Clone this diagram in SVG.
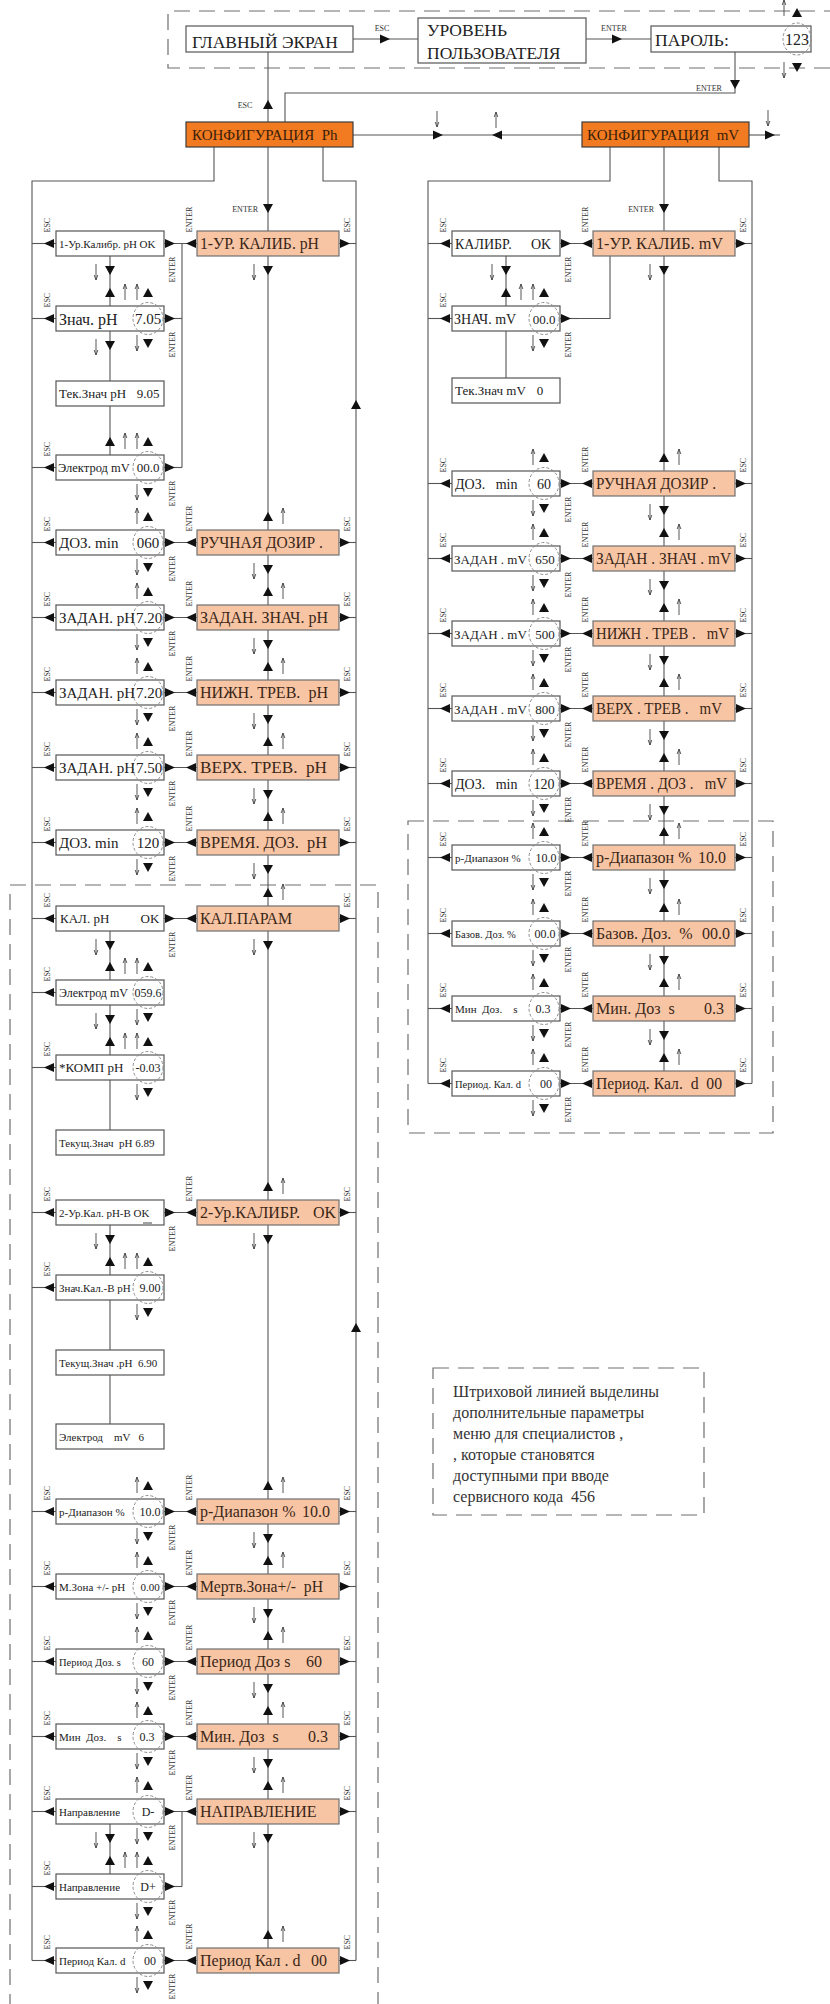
<svg xmlns="http://www.w3.org/2000/svg" width="830" height="2004" viewBox="0 0 830 2004" font-family="Liberation Serif, DejaVu Serif, serif">
<style>
text{font-family:"Liberation Serif","DejaVu Serif",serif;fill:#222;white-space:pre}
.ln{fill:none;stroke:#555;stroke-width:1.1}
.th{fill:none;stroke:#444;stroke-width:0.9}
.ah{fill:#111}
.bx{fill:#fff;stroke:#555;stroke-width:1.2}
.mb{fill:#F8C5A4;stroke:#707070;stroke-width:1.2}
.cf{fill:#F27B21;stroke:#3c3c3c;stroke-width:1.2}
.ci{fill:none;stroke:#8c8c8c;stroke-width:1;stroke-dasharray:3 2}
.dl{fill:none;stroke:#6e6e6e;stroke-width:1.2;stroke-dasharray:16 9}
.lb{font-size:8px;fill:#333}
.mt{font-size:16px;fill:#3a2718}
.ct{font-size:15px;fill:#3a1e0a}
.hd{font-size:17.5px;fill:#222}
.m{text-anchor:middle}
.e{text-anchor:end}
.nt{font-size:16px;fill:#333}
</style>
<defs>
<path id="aR" class="ah" d="M-10,-4.5L0,0L-10,4.5Z"/>
<path id="aL" class="ah" d="M10,-4.5L0,0L10,4.5Z"/>
<path id="aD" class="ah" d="M-5,-9L0,0L5,-9Z"/>
<path id="aU" class="ah" d="M-5,9L0,0L5,9Z"/>
<path id="tD" class="th" d="M0,-16V0M-1.8,-5L0,0L1.8,-5"/>
<path id="tU" class="th" d="M0,16V0M-1.8,5L0,0L1.8,5"/>
<rect id="LB" class="bx" x="56" y="0" width="108" height="25"/>
<rect id="MB" class="mb" x="197" y="0" width="142" height="25"/>
<text id="enB" class="lb" transform="translate(174.5,51.5) rotate(-90)">ENTER</text>
<text id="enA" class="lb" transform="translate(191.5,1.5) rotate(-90)">ENTER</text>
<g id="escL"><path class="ln" d="M32,12.5H56"/><use href="#aL" x="44" y="12.5"/><text class="lb" transform="translate(49.5,1.5) rotate(-90)">ESC</text></g>
<g id="escR"><path class="ln" d="M339,12.5H356"/><use href="#aR" x="350" y="12.5"/><text class="lb" transform="translate(349.5,1.5) rotate(-90)">ESC</text></g>
<g id="cir"><ellipse class="ci" cx="148" cy="12.5" rx="15" ry="16"/><use href="#aU" x="148" y="-18"/><use href="#tU" x="137" y="-22"/><use href="#aD" x="148" y="42"/><use href="#tD" x="137" y="45"/></g>
<g id="lnk0"><path class="ln" d="M164,12.5H197"/><use href="#aR" x="175" y="12.5"/><use href="#aL" x="186" y="12.5"/><use href="#enB"/></g>
<g id="lnk"><use href="#lnk0"/><use href="#enA"/></g>
<g id="rt"><path class="ln" d="M164,12.5H182"/><use href="#aR" x="175" y="12.5"/><use href="#enB"/></g>
<g id="dnM"><use href="#aD" x="268" y="44"/><use href="#tD" x="254" y="49"/></g>
<g id="upM"><use href="#aU" x="268" y="-18"/><use href="#tU" x="283" y="-22"/></g>
<g id="dnL"><use href="#aD" x="110" y="44"/><use href="#tD" x="96" y="49"/></g>
<g id="upL"><use href="#aU" x="110" y="-18"/><use href="#tU" x="125" y="-22"/></g>
<g id="vr"><use href="#escL"/><use href="#escR"/><use href="#lnk"/><use href="#upM"/><use href="#dnM"/></g>
</defs>
<rect width="830" height="2004" fill="#fff"/>
<g id="frames">
<path class="dl" d="M840,11H168V68H840"/>
<path class="dl" d="M10,2010V885H378V2010"/>
<rect class="dl" x="408" y="821" width="365" height="312"/>
</g>
<g id="connectors">
<path class="ln" d="M353,39H418"/><use href="#aR" x="390" y="39"/><text class="lb m" x="382" y="31">ESC</text>
<path class="ln" d="M586,39H651"/><use href="#aR" x="622" y="39"/><text class="lb m" x="614" y="31">ENTER</text>
<path class="ln" d="M268,52V122"/><use href="#aU" x="268" y="100"/><text class="lb m" x="245" y="108">ESC</text>
<path class="ln" d="M735,52V93H285V122"/><use href="#aD" x="735" y="89"/><text class="lb m" x="709" y="91">ENTER</text>
<use href="#aU" x="797" y="8"/><use href="#tU" x="784" y="0"/><use href="#aD" x="797" y="72"/><use href="#tD" x="784" y="78"/>
<path class="ln" d="M353,135H582"/><use href="#aR" x="443" y="135"/><use href="#aL" x="492" y="135"/><use href="#tD" x="437" y="127"/><use href="#tU" x="496" y="112"/>
<path class="ln" d="M749,135H780"/><use href="#aR" x="775" y="135"/><use href="#tD" x="768" y="126"/>
<g id="ph-conn">
<path class="ln" d="M268,147V1948"/>
<path class="ln" d="M214,147V181H32V1960.5"/>
<path class="ln" d="M323,147V181H356V1960.5"/>
<text class="lb e" x="258" y="212">ENTER</text><use href="#aD" x="268" y="213"/>
<path class="ln" d="M110,231V480M110,906V1155M110,1200V1449M110,1799V1899M182,243.5V467.5M182,1811.5V1886.5"/>
<use href="#aU" x="356" y="400"/><use href="#aU" x="356" y="1323"/>
<g transform="translate(0,231)"><use href="#escL"/><use href="#escR"/><use href="#lnk"/><use href="#dnM"/><use href="#dnL"/></g>
<g transform="translate(0,306)"><use href="#escL"/><use href="#rt"/><use href="#upL"/><use href="#dnL"/></g>
<g transform="translate(0,455)"><use href="#escL"/><use href="#rt"/><use href="#upL"/></g>
<use href="#vr" y="530"/><use href="#vr" y="605"/><use href="#vr" y="680"/><use href="#vr" y="755"/><use href="#vr" y="830"/>
<g transform="translate(0,906)"><use href="#escL"/><use href="#escR"/><use href="#lnk0"/><use href="#upM"/><use href="#dnM"/><use href="#dnL"/></g>
<g transform="translate(0,980)"><use href="#escL"/><use href="#upL"/><use href="#dnL"/></g>
<g transform="translate(0,1055)"><use href="#escL"/><use href="#upL"/></g>
<g transform="translate(0,1200)"><use href="#vr"/><use href="#dnL"/></g>
<g transform="translate(0,1275)"><use href="#escL"/><use href="#upL"/></g>
<use href="#vr" y="1499"/><use href="#vr" y="1574"/><use href="#vr" y="1649"/><use href="#vr" y="1724"/>
<g transform="translate(0,1799)"><use href="#vr"/><use href="#dnL"/></g>
<g transform="translate(0,1874)"><use href="#escL"/><use href="#rt"/><use href="#upL"/></g>
<g transform="translate(0,1948)"><use href="#escL"/><use href="#escR"/><use href="#lnk"/><use href="#upM"/></g>
</g>
<g id="mv-conn" transform="translate(396,0)">
<path class="ln" d="M268,147V1071"/>
<path class="ln" d="M214,147V181H32V1083.5"/>
<path class="ln" d="M323,147V181H356V1083.5"/>
<text class="lb e" x="258" y="212">ENTER</text><use href="#aD" x="268" y="213"/>
<path class="ln" d="M110,231V403M214,256V318.5H164"/>
<g transform="translate(0,231)"><use href="#escL"/><use href="#escR"/><use href="#lnk"/><use href="#dnM"/><use href="#dnL"/></g>
<g transform="translate(0,306)"><use href="#escL"/><use href="#rt"/><use href="#upL"/></g>
<g transform="translate(0,471)"><use href="#escL"/><use href="#escR"/><use href="#lnk"/><use href="#upM"/><use href="#dnM"/></g>
<use href="#vr" y="546"/><use href="#vr" y="621"/><use href="#vr" y="696"/><use href="#vr" y="771"/><use href="#vr" y="845"/><use href="#vr" y="921"/><use href="#vr" y="996"/>
<g transform="translate(0,1071)"><use href="#escL"/><use href="#escR"/><use href="#lnk"/><use href="#upM"/></g>
</g>
</g>
<g id="nodes">
<g id="n-main"><rect class="bx" x="186" y="26" width="167" height="26"/><text class="hd" x="192" y="48">ГЛАВНЫЙ ЭКРАН</text></g>
<g id="n-user"><rect class="bx" x="418" y="18" width="168" height="45"/><text class="hd" x="427" y="36">УРОВЕНЬ</text><text class="hd" x="427" y="59">ПОЛЬЗОВАТЕЛЯ</text></g>
<g id="n-pass"><rect class="bx" x="651" y="26" width="160" height="26"/><text class="hd" x="655" y="46" font-size="17">ПАРОЛЬ:</text><ellipse class="ci" cx="797" cy="39" rx="14" ry="16"/><text class="m" x="797" y="45" font-size="16">123</text></g>
<g id="n-cfgph"><rect class="cf" x="186" y="122" width="167" height="25"/><text class="ct" x="192" y="140">КОНФИГУРАЦИЯ  Ph</text></g>
<g id="n-cfgmv"><rect class="cf" x="582" y="122" width="167" height="25"/><text class="ct" x="587" y="140">КОНФИГУРАЦИЯ  mV</text></g>
<g id="ph-nodes">
<g id="ph-a1" transform="translate(0,231)"><use href="#LB"/><text x="59" y="16.5" font-size="11">1-Ур.Калибр. pH OK</text></g>
<g id="ph-b1" transform="translate(0,231)"><use href="#MB"/><text class="mt" x="200" y="18" textLength="119" lengthAdjust="spacingAndGlyphs">1-УР. КАЛИБ. pH</text></g>
<g id="ph-a2" transform="translate(0,306)"><use href="#LB"/><use href="#cir"/><text x="59" y="18.5" font-size="16">Знач. pH</text><text class="m" x="148" y="18" font-size="15">7.05</text></g>
<g id="ph-a3" transform="translate(0,381)"><use href="#LB"/><text x="59" y="17" font-size="13">Тек.Знач pH</text><text class="m" x="148" y="17" font-size="13">9.05</text></g>
<g id="ph-a4" transform="translate(0,455)"><use href="#LB"/><use href="#cir"/><text x="58" y="17" font-size="12.5">Электрод mV</text><text class="m" x="148" y="17" font-size="13">00.0</text></g>
<g id="ph-a5" transform="translate(0,530)"><use href="#LB"/><use href="#cir"/><text x="59" y="18" font-size="15">ДОЗ. min</text><text class="m" x="148" y="18" font-size="15">060</text></g>
<g id="ph-b5" transform="translate(0,530)"><use href="#MB"/><text class="mt" x="200" y="18" textLength="123" lengthAdjust="spacingAndGlyphs">РУЧНАЯ ДОЗИР .</text></g>
<g id="ph-a6" transform="translate(0,605)"><use href="#LB"/><use href="#cir"/><text x="59" y="18" font-size="15">ЗАДАН. pH</text><text class="m" x="149" y="18" font-size="15">7.20</text></g>
<g id="ph-b6" transform="translate(0,605)"><use href="#MB"/><text class="mt" x="200" y="18" textLength="128" lengthAdjust="spacingAndGlyphs">ЗАДАН. ЗНАЧ. pH</text></g>
<g id="ph-a7" transform="translate(0,680)"><use href="#LB"/><use href="#cir"/><text x="59" y="18" font-size="15">ЗАДАН. pH</text><text class="m" x="149" y="18" font-size="15">7.20</text></g>
<g id="ph-b7" transform="translate(0,680)"><use href="#MB"/><text class="mt" x="200" y="18" textLength="128" lengthAdjust="spacingAndGlyphs">НИЖН. ТРЕВ.  pH</text></g>
<g id="ph-a8" transform="translate(0,755)"><use href="#LB"/><use href="#cir"/><text x="59" y="18" font-size="15">ЗАДАН. pH</text><text class="m" x="149" y="18" font-size="15">7.50</text></g>
<g id="ph-b8" transform="translate(0,755)"><use href="#MB"/><text class="mt" x="200" y="18" textLength="127" lengthAdjust="spacingAndGlyphs">ВЕРХ. ТРЕВ.  pH</text></g>
<g id="ph-a9" transform="translate(0,830)"><use href="#LB"/><use href="#cir"/><text x="59" y="18" font-size="15">ДОЗ. min</text><text class="m" x="148" y="18" font-size="15">120</text></g>
<g id="ph-b9" transform="translate(0,830)"><use href="#MB"/><text class="mt" x="200" y="18" textLength="127" lengthAdjust="spacingAndGlyphs">ВРЕМЯ. ДОЗ.  pH</text></g>
<g id="ph-a10" transform="translate(0,906)"><use href="#LB"/><text x="60" y="17" font-size="13">КАЛ. pH</text><text class="m" x="150" y="17" font-size="13">OK</text></g>
<g id="ph-b10" transform="translate(0,906)"><use href="#MB"/><text class="mt" x="200" y="18" textLength="92" lengthAdjust="spacingAndGlyphs">КАЛ.ПАРАМ</text></g>
<g id="ph-a11" transform="translate(0,980)"><use href="#LB"/><use href="#cir"/><text x="59" y="17" font-size="12">Электрод mV</text><text class="m" x="148" y="17" font-size="12">059.6</text></g>
<g id="ph-a12" transform="translate(0,1055)"><use href="#LB"/><use href="#cir"/><text x="59" y="17" font-size="13">*КОМП pH</text><text class="m" x="148" y="17" font-size="12">-0.03</text></g>
<g id="ph-a13" transform="translate(0,1130)"><use href="#LB"/><text x="59" y="16.5" font-size="11">Текущ.Знач  pH 6.89</text></g>
<g id="ph-a14" transform="translate(0,1200)"><use href="#LB"/><text x="59" y="16.5" font-size="11">2-Ур.Кал. pH-B OK</text><path class="ln" d="M143,23H152"/></g>
<g id="ph-b14" transform="translate(0,1200)"><use href="#MB"/><text class="mt" x="200" y="18">2-Ур.КАЛИБР.</text><text class="mt e" x="336" y="18">OK</text></g>
<g id="ph-a15" transform="translate(0,1275)"><use href="#LB"/><use href="#cir"/><text x="59" y="16.5" font-size="11">Знач.Кал.-В pH</text><text class="m" x="150" y="17" font-size="12">9.00</text></g>
<g id="ph-a16" transform="translate(0,1350)"><use href="#LB"/><text x="59" y="16.5" font-size="11">Текущ.Знач .pH  6.90</text></g>
<g id="ph-a17" transform="translate(0,1424)"><use href="#LB"/><text x="59" y="16.5" font-size="11">Электрод    mV   6</text></g>
<g id="ph-a18" transform="translate(0,1499)"><use href="#LB"/><use href="#cir"/><text x="59" y="16.5" font-size="11">р-Диапазон %</text><text class="m" x="150" y="17" font-size="12">10.0</text></g>
<g id="ph-b18" transform="translate(0,1499)"><use href="#MB"/><text class="mt" x="200" y="18">р-Диапазон %</text><text class="mt e" x="330" y="18">10.0</text></g>
<g id="ph-a19" transform="translate(0,1574)"><use href="#LB"/><use href="#cir"/><text x="59" y="16.5" font-size="11">М.Зона +/- pH</text><text class="m" x="150" y="16.5" font-size="11">0.00</text></g>
<g id="ph-b19" transform="translate(0,1574)"><use href="#MB"/><text class="mt" x="200" y="18" textLength="123" lengthAdjust="spacingAndGlyphs">Мертв.Зона+/-  pH</text></g>
<g id="ph-a20" transform="translate(0,1649)"><use href="#LB"/><use href="#cir"/><text x="59" y="16.5" font-size="10.5">Период Доз. s</text><text class="m" x="148" y="17" font-size="12">60</text></g>
<g id="ph-b20" transform="translate(0,1649)"><use href="#MB"/><text class="mt" x="200" y="18">Период Доз s</text><text class="mt e" x="322" y="18">60</text></g>
<g id="ph-a21" transform="translate(0,1724)"><use href="#LB"/><use href="#cir"/><text x="59" y="16.5" font-size="11">Мин  Доз.    s</text><text class="m" x="147" y="17" font-size="12">0.3</text></g>
<g id="ph-b21" transform="translate(0,1724)"><use href="#MB"/><text class="mt" x="200" y="18">Мин. Доз  s</text><text class="mt e" x="328" y="18">0.3</text></g>
<g id="ph-a22" transform="translate(0,1799)"><use href="#LB"/><use href="#cir"/><text x="59" y="16.5" font-size="11">Направление</text><text class="m" x="148" y="17" font-size="12">D-</text></g>
<g id="ph-b22" transform="translate(0,1799)"><use href="#MB"/><text class="mt" x="200" y="18">НАПРАВЛЕНИЕ</text></g>
<g id="ph-a23" transform="translate(0,1874)"><use href="#LB"/><use href="#cir"/><text x="59" y="16.5" font-size="11">Направление</text><text class="m" x="148" y="17" font-size="12">D+</text></g>
<g id="ph-a24" transform="translate(0,1948)"><use href="#LB"/><use href="#cir"/><text x="59" y="16.5" font-size="11">Период Кал. d</text><text class="m" x="150" y="17" font-size="12">00</text></g>
<g id="ph-b24" transform="translate(0,1948)"><use href="#MB"/><text class="mt" x="200" y="18">Период Кал . d</text><text class="mt e" x="327" y="18">00</text></g>
</g>
<g id="mv-nodes" transform="translate(396,0)">
<g id="mv-a1" transform="translate(0,231)"><use href="#LB"/><text x="59" y="17.5" font-size="14">КАЛИБР.</text><text class="m" x="145" y="17.5" font-size="14">OK</text></g>
<g id="mv-b1" transform="translate(0,231)"><use href="#MB"/><text class="mt" x="200" y="18" textLength="127" lengthAdjust="spacingAndGlyphs">1-УР. КАЛИБ. mV</text></g>
<g id="mv-a2" transform="translate(0,306)"><use href="#LB"/><use href="#cir"/><text x="58" y="17.5" font-size="14">ЗНАЧ. mV</text><text class="m" x="148" y="17.5" font-size="13">00.0</text></g>
<g id="mv-a3" transform="translate(0,378)"><use href="#LB"/><text x="59" y="17" font-size="13">Тек.Знач mV</text><text class="m" x="144" y="17" font-size="13">0</text></g>
<g id="mv-a4" transform="translate(0,471)"><use href="#LB"/><use href="#cir"/><text x="59" y="17.5" font-size="14">ДОЗ.   min</text><text class="m" x="148" y="17.5" font-size="14">60</text></g>
<g id="mv-b4" transform="translate(0,471)"><use href="#MB"/><text class="mt" x="200" y="18" textLength="120" lengthAdjust="spacingAndGlyphs">РУЧНАЯ ДОЗИР .</text></g>
<g id="mv-a5" transform="translate(0,546)"><use href="#LB"/><use href="#cir"/><text x="58" y="17.5" font-size="13">ЗАДАН . mV</text><text class="m" x="149" y="17.5" font-size="13">650</text></g>
<g id="mv-b5" transform="translate(0,546)"><use href="#MB"/><text class="mt" x="200" y="18" textLength="135" lengthAdjust="spacingAndGlyphs">ЗАДАН . ЗНАЧ . mV</text></g>
<g id="mv-a6" transform="translate(0,621)"><use href="#LB"/><use href="#cir"/><text x="58" y="17.5" font-size="13">ЗАДАН . mV</text><text class="m" x="149" y="17.5" font-size="13">500</text></g>
<g id="mv-b6" transform="translate(0,621)"><use href="#MB"/><text class="mt" x="200" y="18" textLength="133" lengthAdjust="spacingAndGlyphs">НИЖН . ТРЕВ .   mV</text></g>
<g id="mv-a7" transform="translate(0,696)"><use href="#LB"/><use href="#cir"/><text x="58" y="17.5" font-size="13">ЗАДАН . mV</text><text class="m" x="149" y="17.5" font-size="13">800</text></g>
<g id="mv-b7" transform="translate(0,696)"><use href="#MB"/><text class="mt" x="200" y="18" textLength="126" lengthAdjust="spacingAndGlyphs">ВЕРХ . ТРЕВ .   mV</text></g>
<g id="mv-a8" transform="translate(0,771)"><use href="#LB"/><use href="#cir"/><text x="59" y="17.5" font-size="14">ДОЗ.   min</text><text class="m" x="148" y="17.5" font-size="14">120</text></g>
<g id="mv-b8" transform="translate(0,771)"><use href="#MB"/><text class="mt" x="200" y="18" textLength="131" lengthAdjust="spacingAndGlyphs">ВРЕМЯ . ДОЗ .   mV</text></g>
<g id="mv-a9" transform="translate(0,845)"><use href="#LB"/><use href="#cir"/><text x="59" y="16.5" font-size="11">р-Диапазон %</text><text class="m" x="150" y="17" font-size="12">10.0</text></g>
<g id="mv-b9" transform="translate(0,845)"><use href="#MB"/><text class="mt" x="200" y="18">р-Диапазон %</text><text class="mt e" x="330" y="18">10.0</text></g>
<g id="mv-a10" transform="translate(0,921)"><use href="#LB"/><use href="#cir"/><text x="59" y="16.5" font-size="10.5">Базов. Доз. %</text><text class="m" x="149" y="17" font-size="12">00.0</text></g>
<g id="mv-b10" transform="translate(0,921)"><use href="#MB"/><text class="mt" x="200" y="18">Базов. Доз.  %</text><text class="mt e" x="334" y="18">00.0</text></g>
<g id="mv-a11" transform="translate(0,996)"><use href="#LB"/><use href="#cir"/><text x="59" y="16.5" font-size="11">Мин  Доз.    s</text><text class="m" x="147" y="17" font-size="12">0.3</text></g>
<g id="mv-b11" transform="translate(0,996)"><use href="#MB"/><text class="mt" x="200" y="18">Мин. Доз  s</text><text class="mt e" x="328" y="18">0.3</text></g>
<g id="mv-a12" transform="translate(0,1071)"><use href="#LB"/><use href="#cir"/><text x="59" y="16.5" font-size="10.5">Период. Кал. d</text><text class="m" x="150" y="17" font-size="12">00</text></g>
<g id="mv-b12" transform="translate(0,1071)"><use href="#MB"/><text class="mt" x="200" y="18" textLength="126" lengthAdjust="spacingAndGlyphs">Период. Кал.  d  00</text></g>
</g>
<g id="note">
<rect class="dl" x="433" y="1368" width="271" height="147"/>
<text class="nt" x="453" y="1397">Штриховой линией выделины</text>
<text class="nt" x="453" y="1418">дополнительные параметры</text>
<text class="nt" x="453" y="1439">меню для специалистов ,</text>
<text class="nt" x="453" y="1460">, которые становятся</text>
<text class="nt" x="453" y="1481">доступными при вводе</text>
<text class="nt" x="453" y="1502">сервисного кода  456</text>
</g>
</g>
</svg>
